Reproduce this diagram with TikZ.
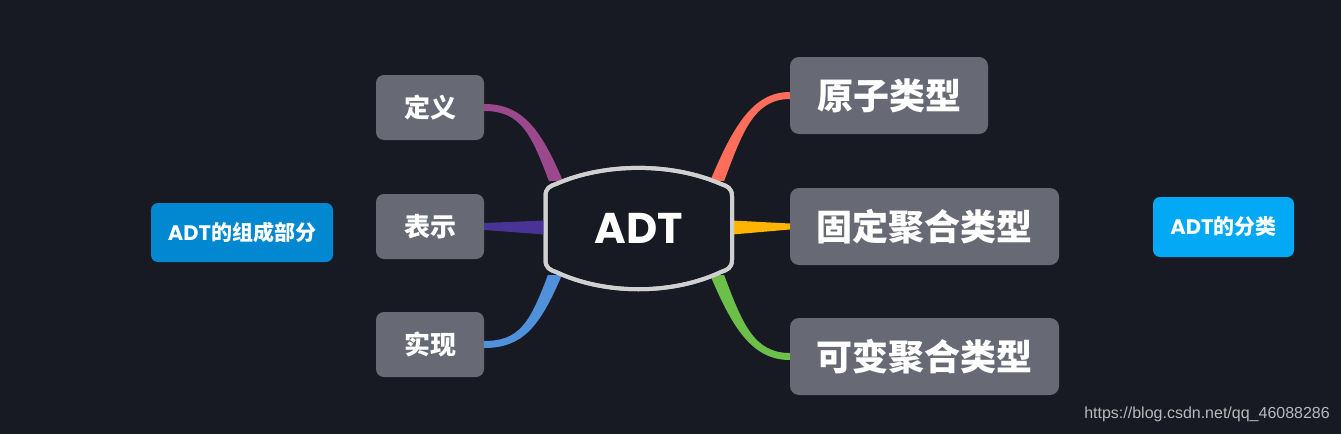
\documentclass[tikz,border=0pt]{standalone}
\usepackage{fontspec}
\setmainfont{Liberation Sans}
\newfontfamily\cjk{Noto Sans CJK SC}
\newfontfamily\pop{Poppins}
\usetikzlibrary{calc}
\definecolor{bg}{RGB}{23,25,35}
\definecolor{boxgray}{RGB}{103,106,116}
\definecolor{cpurple}{RGB}{156,72,140}
\definecolor{cindigo}{RGB}{72,52,150}
\definecolor{cblue}{RGB}{80,145,220}
\definecolor{cred}{RGB}{255,110,90}
\definecolor{cyellow}{RGB}{255,180,0}
\definecolor{cgreen}{RGB}{108,192,74}
\definecolor{lblue}{RGB}{2,136,209}
\definecolor{rblue}{RGB}{3,169,244}
\definecolor{outline}{RGB}{208,208,208}
\definecolor{wm}{RGB}{185,185,185}
\tikzset{
  leftbox/.style={fill=boxgray, rounded corners=8pt, minimum width=108pt, minimum height=65pt, inner sep=0pt, text=white, font=\cjk\bfseries\fontsize{26}{26}\selectfont},
  rightbox/.style={fill=boxgray, rounded corners=9pt, minimum height=77pt, inner sep=0pt, text=white, font=\cjk\bfseries\fontsize{36}{36}\selectfont},
  label/.style={rounded corners=7pt, inner sep=0pt, text=white, font=\bfseries\fontsize{21}{21}\selectfont},
}
\begin{document}
\begin{tikzpicture}[x=1pt,y=-1pt]
\fill[bg] (0,0) rectangle (1341,434);
\useasboundingbox (0,0) rectangle (1341,434);
% central node
\node[minimum width=187pt, minimum height=88pt, inner sep=0pt] (adt) at (638.5,228) {};
\draw[outline, line width=4pt, fill=bg] (545.5,196) -- (545.5,260) .. controls (545.5,268) and (550,270) .. (556,272) .. controls (605,295) and (672,295) .. (721,272) .. controls (727,270) and (732,268) .. (732,260) -- (732,196) .. controls (732,188) and (727,186) .. (721,184) .. controls (672,162.5) and (605,162.5) .. (556,184) .. controls (550,186) and (545.5,188) .. (545.5,196) -- cycle;
\node[text=white, font=\pop\bfseries\fontsize{43}{43}\selectfont, inner sep=0pt] (adtlabel) at (adt.center) {ADT};
% branch nodes
\node[leftbox] (d1) at (430,107.5) {定义};
\node[leftbox] (d2) at (430,226.5) {表示};
\node[leftbox] (d3) at (430,344.5) {实现};
\node[rightbox, minimum width=198pt] (r1) at (889,95.5) {原子类型};
\node[rightbox, minimum width=269pt] (r2) at (924.5,226.5) {固定聚合类型};
\node[rightbox, minimum width=269pt] (r3) at (924.5,356.5) {可变聚合类型};
% labels
\node[label, fill=lblue, minimum width=182pt, minimum height=59pt] (L) at (242,232.5) {{\pop ADT}{\cjk 的组成部分}};
\node[label, fill=rblue, minimum width=141pt, minimum height=60pt] (R) at (1223.5,227) {{\pop ADT}{\cjk 的分类}};
% connection points on the central node
\coordinate (e1) at ($(adt.north west)+(11,-3)$);
\coordinate (e3) at ($(adt.south west)+(10,3)$);
\coordinate (f1) at ($(adt.north east)+(-15,-3)$);
\coordinate (f3) at ($(adt.south east)+(-15,3)$);
% connectors (tapered)
\fill[cpurple] ($(d1.east)+(0,-3.5)$) .. controls +(38,0) and +(-22,-52) .. ($(e1)+(7,0)$) -- ($(e1)+(-7,0)$) .. controls +(-18,-48) and +(36,0) .. ($(d1.east)+(0,3.5)$) -- cycle;
\fill[cindigo] ($(d2.east)+(0,-3.5)$) -- ($(adt.west)+(0,-7.5)$) -- ($(adt.west)+(0,6.5)$) -- ($(d2.east)+(0,3.5)$) -- cycle;
\fill[cblue] ($(d3.east)+(0,-3.5)$) .. controls +(35,0) and +(-18,48) .. ($(e3)+(-7,0)$) -- ($(e3)+(7,0)$) .. controls +(-22,52) and +(38,0) .. ($(d3.east)+(0,3.5)$) -- cycle;
\fill[cred] ($(f1)+(-7,0)$) .. controls +(22,-52) and +(-38,0) .. ($(r1.west)+(0,-3.5)$) -- ($(r1.west)+(0,3.5)$) .. controls +(-36,0) and +(18,-48) .. ($(f1)+(7,0)$) -- cycle;
\fill[cyellow] ($(adt.east)+(0,-7.5)$) -- ($(r2.west)+(0,-3)$) -- ($(r2.west)+(0,3)$) -- ($(adt.east)+(0,6.5)$) -- cycle;
\fill[cgreen] ($(f3)+(-7,0)$) .. controls +(22,52) and +(-38,0) .. ($(r3.west)+(0,3.5)$) -- ($(r3.west)+(0,-3.5)$) .. controls +(-36,0) and +(18,48) .. ($(f3)+(7,0)$) -- cycle;
% redraw outline on top so connectors end at it
\draw[outline, line width=4pt] (545.5,196) -- (545.5,260) .. controls (545.5,268) and (550,270) .. (556,272) .. controls (605,295) and (672,295) .. (721,272) .. controls (727,270) and (732,268) .. (732,260) -- (732,196) .. controls (732,188) and (727,186) .. (721,184) .. controls (672,162.5) and (605,162.5) .. (556,184) .. controls (550,186) and (545.5,188) .. (545.5,196) -- cycle;
% watermark
\node[text=wm, font=\fontsize{16}{16}\selectfont, anchor=east, inner sep=0pt] (wmk) at (1330,414) {https://blog.csdn.net/qq\_46088286};
\end{tikzpicture}
\end{document}
